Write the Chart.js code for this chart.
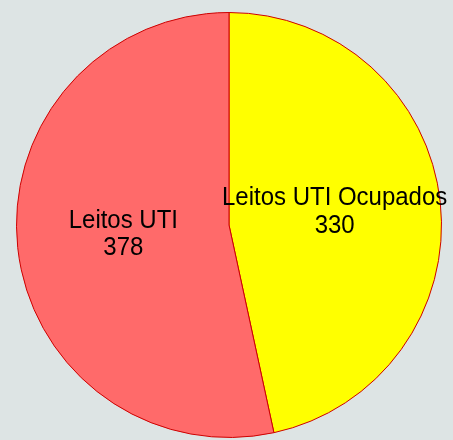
<!DOCTYPE html>
<html><head><meta charset="utf-8">
<script src="https://cdn.jsdelivr.net/npm/chart.js@4"></script>
<style>html,body{margin:0;padding:0;background:#dde4e4;}#wrap{width:453px;height:440px;}</style>
</head><body><div id="wrap"><canvas id="c"></canvas></div>
<script>
const categories = ["Leitos UTI Ocupados", "Leitos UTI"];
const values = [330, 378];
const colors = ["#ffff00", "#ff6a6a"];

const labelPlugin = {
  id: 'sliceLabels',
  afterDatasetsDraw(chart) {
    const ctx = chart.ctx;
    const meta = chart.getDatasetMeta(0);
    const sx = 0.905;
    meta.data.forEach((arc, i) => {
      const p = arc.getCenterPoint();
      ctx.save();
      ctx.font = '26.5px "Liberation Sans", Arial, sans-serif';
      ctx.fillStyle = '#000';
      ctx.textAlign = 'center';
      ctx.textBaseline = 'alphabetic';
      ctx.translate(p.x, p.y);
      ctx.scale(sx, 1);
      ctx.fillText(categories[i], 0, -8.5);
      ctx.fillText(String(values[i]), 0, 19);
      ctx.restore();
    });
  }
};

new Chart(document.getElementById('c'), {
  type: 'pie',
  data: { labels: categories, datasets: [{ data: values, backgroundColor: colors, borderColor: '#cd0000', borderWidth: 1 }] },
  options: {
    responsive: true, maintainAspectRatio: false, animation: false,
    layout: { padding: { left: 16, right: 11, top: 12, bottom: 2 } },
    plugins: { legend: { display: false }, tooltip: { enabled: false } }
  },
  plugins: [labelPlugin]
});
</script></body></html>
